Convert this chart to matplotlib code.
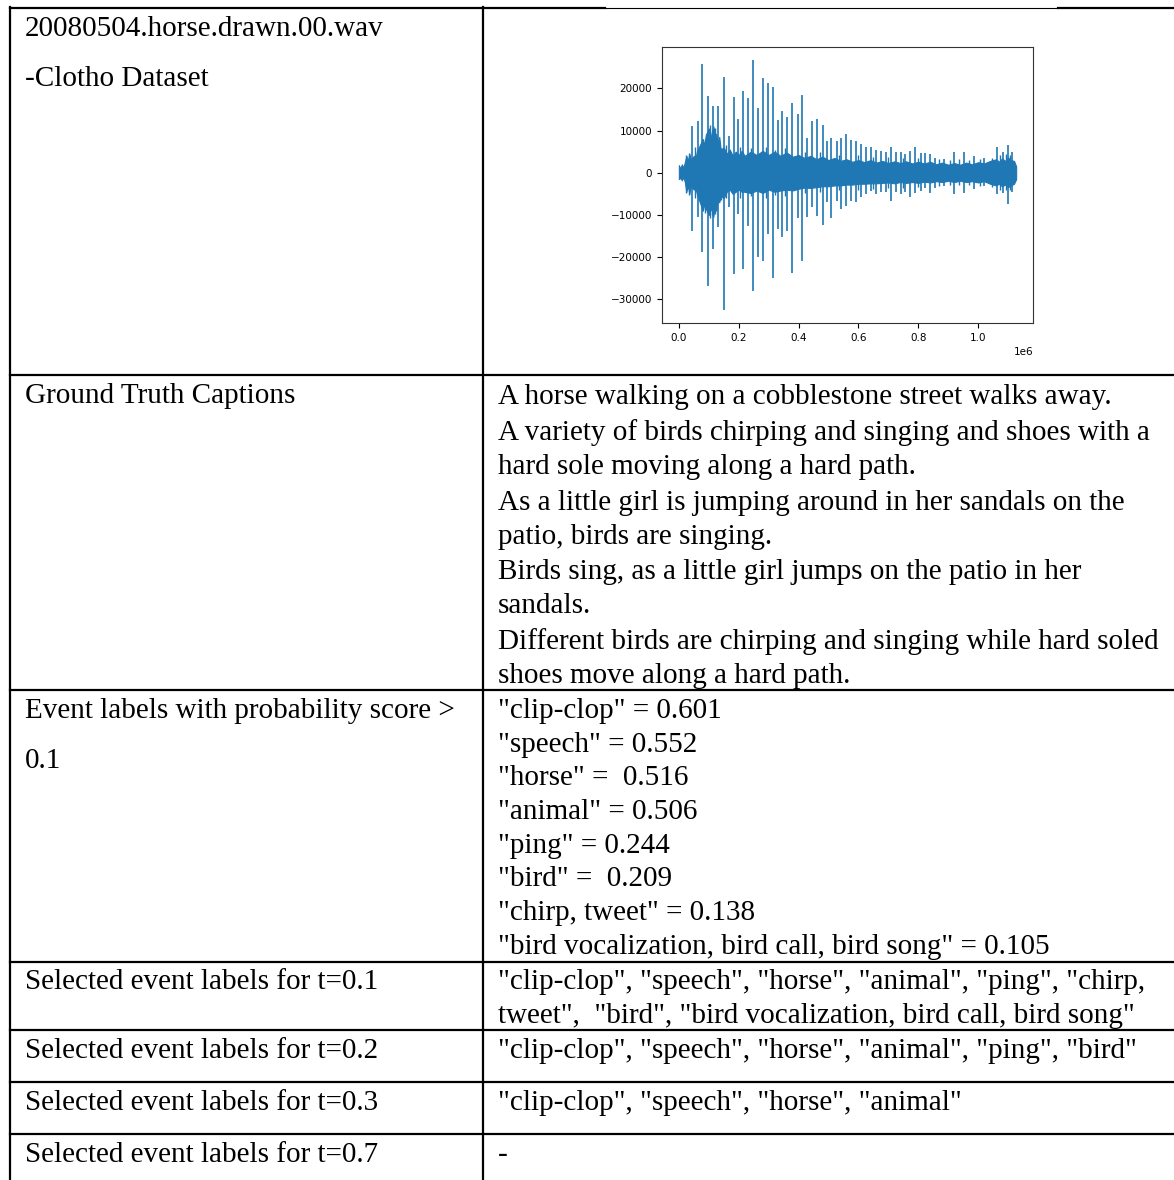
import numpy as np
import matplotlib.pyplot as plt

# waveform (x in units of 1e6 samples)
spike_x = [0.044, 0.065, 0.076, 0.096, 0.115, 0.131, 0.150, 0.167, 0.183, 0.196,
           0.214, 0.230, 0.248, 0.265, 0.281, 0.297, 0.313, 0.331, 0.346, 0.362,
           0.379, 0.397, 0.413, 0.429, 0.445, 0.462, 0.480, 0.494, 0.510, 0.527,
           0.543, 0.560, 0.576, 0.592, 0.609, 0.625, 0.641, 0.659, 0.675, 0.691,
           0.708, 0.724, 0.741, 0.757, 0.774, 0.790, 0.808, 0.822, 0.839, 0.857,
           0.887, 0.920, 0.953, 0.986, 1.020, 1.064, 1.082, 1.099, 1.113]
spike_top = [11100, 12300, 25700, 18200, 15700, 15700, 22600, 8700, 18000, 12700,
             19400, 17800, 26800, 15300, 22400, 21300, 20400, 12400, 14600, 13200,
             16600, 13900, 18500, 8300, 12300, 12800, 11400, 7600, 8300, 7600,
             8300, 9100, 7700, 7600, 6800, 6000, 6200, 5400, 5200, 4800,
             6200, 4800, 4800, 4400, 5200, 6200, 4600, 4600, 4400, 3600,
             3200, 5000, 4800, 4000, 3600, 6000, 4800, 6600, 4800]
spike_bot = [-13700, -10500, -18800, -26900, -18000, -12900, -32600, -8200, -23900, -9800,
             -22800, -12500, -27900, -20000, -20900, -14500, -24900, -13300, -15300, -13700,
             -23800, -10600, -20800, -10400, -8000, -10200, -12300, -7000, -10600, -6600,
             -8600, -7800, -6600, -7000, -5800, -5000, -4300, -5000, -4600, -4600,
             -6800, -4600, -5000, -4600, -5800, -4900, -4300, -3600, -4900, -3500,
             -3100, -5000, -4900, -3900, -3100, -5000, -4900, -7400, -4600]

# smaller peaks along the body of the signal
minor_x = [0.025, 0.035, 0.055, 0.086, 0.105, 0.110, 0.122, 0.140, 0.158, 0.205,
           0.240, 0.290, 0.322, 0.355, 0.420, 0.470, 0.535, 0.600, 0.650, 0.700,
           0.750, 0.800, 0.870, 0.905, 0.935, 0.970, 1.005, 1.045, 1.072, 1.092, 1.105]
minor_top = [4300, 4600, 6000, 8000, 11200, 9800, 10500, 5800, 6500, 6000,
             5800, 6200, 5500, 5800, 5000, 4800, 4200, 4200, 3800, 3700,
             3600, 3500, 3300, 3000, 3200, 3000, 3200, 3600, 4200, 4500, 4300]
minor_bot = [-4800, -5200, -6000, -9500, -10800, -10000, -9800, -6500, -6000, -6000,
             -5500, -6000, -5200, -5500, -4800, -4500, -4200, -4000, -3800, -3500,
             -3500, -3400, -3200, -3000, -3000, -2900, -3100, -3400, -4000, -4200, -4000]

core_x = [0.000, 0.005, 0.010, 0.015, 0.020, 0.025, 0.030, 0.035, 0.040, 0.050,
          0.055, 0.060, 0.070, 0.080, 0.085, 0.090, 0.100, 0.105, 0.110, 0.115,
          0.120, 0.125, 0.130, 0.135, 0.140, 0.150, 0.160, 0.170, 0.180, 0.190,
          0.200, 0.210, 0.220, 0.240, 0.260, 0.280, 0.300, 0.320, 0.340, 0.360,
          0.380, 0.400, 0.420, 0.440, 0.460, 0.480, 0.500, 0.520, 0.540, 0.560,
          0.580, 0.600, 0.620, 0.640, 0.660, 0.680, 0.700, 0.720, 0.740, 0.760,
          0.780, 0.800, 0.820, 0.840, 0.860, 0.880, 0.900, 0.920, 0.940, 0.960,
          0.980, 1.000, 1.020, 1.040, 1.060, 1.070, 1.080, 1.090, 1.100, 1.110,
          1.120, 1.127]
core_top = [1800, 1000, 2000, 1200, 2500, 4000, 2800, 4500, 3000, 4000,
            3200, 5000, 6500, 8000, 6500, 9000, 10500, 8000, 9500, 11000,
            9500, 9000, 7000, 8500, 5500, 6000, 4500, 5500, 4000, 5000,
            4200, 5200, 4000, 5000, 4200, 5200, 4200, 5000, 4000, 4800,
            3800, 4200, 3500, 4000, 3200, 3800, 3000, 3500, 2800, 3200,
            2600, 3000, 2500, 3000, 2400, 2800, 2300, 2700, 2300, 2700,
            2200, 2600, 2200, 2600, 2000, 2400, 1900, 2300, 1900, 2400,
            2000, 2500, 2200, 2800, 3200, 2600, 3400, 2800, 3600, 3000,
            2800, 1500]
core_bot = [-1500, -1200, -1800, -1000, -2200, -4500, -3000, -5000, -3200, -4000,
            -3500, -5000, -7000, -9000, -7500, -8500, -10000, -8500, -9000, -10500,
            -8000, -9000, -6500, -7000, -5500, -6000, -4500, -4000, -5000, -4500,
            -4000, -4500, -4500, -4800, -4200, -4800, -4000, -4500, -4200, -4000,
            -4200, -3800, -3500, -3600, -3400, -3200, -3200, -3000, -3000, -2800,
            -2800, -2600, -2600, -2500, -2500, -2400, -2300, -2500, -2200, -2400,
            -2200, -2400, -2100, -2300, -2000, -2200, -1900, -2200, -1900, -2200,
            -2000, -2300, -2000, -2600, -3000, -2600, -3200, -2800, -3400, -3000,
            -2600, -1500]

# table text
left_cells = ["20080504.horse.drawn.00.wav", "-Clotho Dataset",
              "Ground Truth Captions",
              "Event labels with probability score >", "0.1",
              "Selected event labels for t=0.1",
              "Selected event labels for t=0.2",
              "Selected event labels for t=0.3",
              "Selected event labels for t=0.7"]
left_y = [36, 86, 403, 718, 768, 989, 1058, 1110, 1162]

captions = ["A horse walking on a cobblestone street walks away.",
            "A variety of birds chirping and singing and shoes with a",
            "hard sole moving along a hard path.",
            "As a little girl is jumping around in her sandals on the",
            "patio, birds are singing.",
            "Birds sing, as a little girl jumps on the patio in her",
            "sandals.",
            "Different birds are chirping and singing while hard soled",
            "shoes move along a hard path."]
caption_y = [404, 440, 474, 510, 544, 579, 613, 649, 683]

labels = ["clip-clop", "speech", "horse", "animal", "ping", "bird",
          "chirp, tweet", "bird vocalization, bird call, bird song"]
scores = ["0.601", "0.552", "0.516", "0.506", "0.244", "0.209", "0.138", "0.105"]
label_y = [718, 752, 785, 819, 853, 886, 920, 954]

selected = ['"clip-clop", "speech", "horse", "animal", "ping", "chirp,',
            'tweet",  "bird", "bird vocalization, bird call, bird song"',
            '"clip-clop", "speech", "horse", "animal", "ping", "bird"',
            '"clip-clop", "speech", "horse", "animal"',
            '-']
selected_y = [989, 1023, 1058, 1110, 1162]

row_lines = [375, 690, 962, 1030, 1082, 1134]

fig = plt.figure(figsize=(11.74, 11.8), dpi=100)
ax = fig.add_axes([0, 0, 1, 1])
ax.set_xlim(0, 1174)
ax.set_ylim(1180, 0)
ax.axis('off')

# grid lines
ax.plot([10, 605], [8, 8], color='black', lw=1.6)
ax.plot([605, 1058], [8, 8], color='black', lw=0.8)
ax.plot([1058, 1174], [8, 8], color='black', lw=1.6)
for y in row_lines:
    ax.plot([10, 1174], [y, y], color='black', lw=1.6)
ax.plot([10, 10], [7, 1180], color='black', lw=1.6)
ax.plot([483, 483], [7, 1180], color='black', lw=1.6)

serif = 'Liberation Serif'
fs = 21
for txt, y in zip(left_cells, left_y):
    ax.text(25, y, txt, family=serif, fontsize=fs, va='baseline', ha='left')
for txt, y in zip(captions, caption_y):
    ax.text(498, y, txt, family=serif, fontsize=fs, va='baseline', ha='left')
for lab, sc, y in zip(labels, scores, label_y):
    sep = ' =  ' if lab in ('horse', 'bird') else ' = '
    ax.text(498, y, '"' + lab + '"' + sep + sc, family=serif,
            fontsize=fs, va='baseline', ha='left')
for txt, y in zip(selected, selected_y):
    ax.text(498, y, txt, family=serif, fontsize=fs, va='baseline', ha='left')

# embedded waveform
W, H = 1174, 1180
wax = fig.add_axes([662 / W, (H - 323) / H, 371 / W, 276 / H])
blue = '#1f77b4'
wax.fill_between(np.array(core_x) * 1e6, core_bot, core_top, color=blue, lw=0.8)
wax.vlines(np.array(minor_x) * 1e6, minor_bot, minor_top, color=blue, lw=1.0)
wax.vlines(np.array(spike_x) * 1e6, spike_bot, spike_top, color=blue, lw=1.2)
wax.tick_params(labelsize=7.5, length=3.5, width=0.8)
wax.xaxis.get_offset_text().set_fontsize(7.5)
for s in wax.spines.values():
    s.set_linewidth(0.8)
    s.set_color('#333333')

fig.savefig('out.png', dpi=100)
